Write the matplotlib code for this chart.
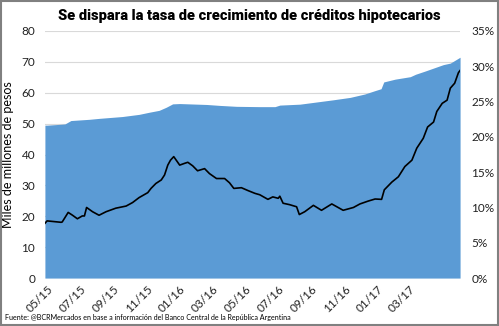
import matplotlib
matplotlib.use("Agg")
import matplotlib.pyplot as plt
import matplotlib.dates as mdates
from matplotlib.patches import Rectangle
from matplotlib.ticker import FuncFormatter
import pandas as pd

# Stock of mortgage loans (left axis, miles de millones de pesos)
stock_dates = ["2015-04-27", "2015-05-01", "2015-05-27", "2015-06-03", "2015-06-14",
               "2015-07-18", "2015-08-05", "2015-09-17", "2015-10-18", "2015-11-06",
               "2015-11-24", "2015-12-07", "2015-12-19", "2016-01-01", "2016-02-20",
               "2016-03-15", "2016-04-15", "2016-05-28", "2016-06-25", "2016-07-04",
               "2016-08-10", "2016-10-10", "2016-11-11", "2016-12-08", "2016-12-27",
               "2017-01-07", "2017-01-12", "2017-02-02", "2017-03-02", "2017-03-12",
               "2017-03-29", "2017-05-02", "2017-05-15", "2017-06-02"]
stock_values = [49.5, 49.5, 49.8, 49.9, 51.0,
                51.4, 51.7, 52.3, 53.0, 53.7,
                54.3, 55.3, 56.4, 56.5, 56.2,
                55.9, 55.6, 55.5, 55.5, 56.0,
                56.3, 57.7, 58.5, 59.6, 60.7,
                61.3, 63.5, 64.4, 65.2, 66.0,
                67.0, 69.1, 69.6, 71.5]

# Year-on-year growth rate (right axis, %)
rate_dates = ["2015-04-27", "2015-05-01", "2015-05-27", "2015-05-29", "2015-06-09",
              "2015-06-17", "2015-06-26", "2015-07-05", "2015-07-09", "2015-07-13",
              "2015-07-24", "2015-08-05", "2015-08-18", "2015-09-05", "2015-09-24",
              "2015-10-06", "2015-10-18", "2015-11-03", "2015-11-09", "2015-11-18",
              "2015-11-28", "2015-12-04", "2015-12-10", "2015-12-15", "2015-12-21",
              "2016-01-01", "2016-01-10", "2016-01-16", "2016-01-25", "2016-02-03",
              "2016-02-16", "2016-02-25", "2016-03-09", "2016-03-24", "2016-04-02",
              "2016-04-10", "2016-04-24", "2016-05-06", "2016-05-19", "2016-05-28",
              "2016-06-12", "2016-06-21", "2016-07-01", "2016-07-04", "2016-07-10",
              "2016-07-22", "2016-08-04", "2016-08-09", "2016-08-19", "2016-09-04",
              "2016-09-19", "2016-10-08", "2016-10-29", "2016-11-17", "2016-11-29",
              "2016-12-14", "2016-12-27", "2017-01-08", "2017-01-13", "2017-01-27",
              "2017-02-08", "2017-02-20", "2017-03-05", "2017-03-14", "2017-03-26",
              "2017-04-03", "2017-04-14", "2017-04-20", "2017-04-30", "2017-05-09",
              "2017-05-15", "2017-05-23", "2017-05-30", "2017-06-02"]
rate_values = [7.75, 8.1, 7.9, 7.95, 9.3,
               8.9, 8.4, 8.8, 8.8, 10.0,
               9.4, 8.9, 9.4, 9.9, 10.2,
               10.7, 11.4, 12.1, 12.7, 13.4,
               13.9, 14.6, 16.0, 16.7, 17.2,
               16.0, 16.25, 16.4, 15.9, 15.2,
               15.5, 14.8, 14.1, 14.1, 13.5,
               12.7, 12.8, 12.4, 12.0, 11.8,
               11.15, 11.5, 11.3, 11.6, 10.6,
               10.4, 10.1, 9.0, 9.4, 10.3,
               9.6, 10.5, 9.6, 10.0, 10.5,
               10.9, 11.2, 11.15, 12.5, 13.6,
               14.35, 15.8, 16.7, 18.4, 19.8,
               21.4, 22.1, 23.6, 24.75, 25.2,
               26.9, 27.6, 29.1, 29.4]

tick_dates = ["2015-05-01", "2015-07-01", "2015-09-01", "2015-11-01", "2016-01-01",
              "2016-03-01", "2016-05-01", "2016-07-01", "2016-09-01", "2016-11-01",
              "2017-01-01", "2017-03-01"]

title = "Se dispara la tasa de crecimiento de créditos hipotecarios"
ylabel = "Miles de millones de pesos"
source = "Fuente: @BCRMercados en base a información del Banco Central de la República Argentina"

sd = pd.to_datetime(stock_dates)
rd = pd.to_datetime(rate_dates)
td = pd.to_datetime(tick_dates)

fig = plt.figure(figsize=(4.99, 3.26), dpi=100)
ax = fig.add_axes([0.090, 0.147, 0.832, 0.758])
ax2 = ax.twinx()

ax.fill_between(sd, 0, stock_values, color="#5B9BD5", linewidth=0, zorder=2)
ax2.plot(rd, rate_values, color="black", linewidth=1.2, zorder=3)

ax.set_ylim(0, 80)
ax.set_yticks(range(0, 81, 10))
ax2.set_ylim(0, 35)
ax2.set_yticks(range(0, 36, 5))
ax2.yaxis.set_major_formatter(FuncFormatter(lambda v, p: f"{int(v)}%"))

ax.set_xlim(sd[0], sd[-1])
ax.set_xticks(td)
ax.xaxis.set_major_formatter(mdates.DateFormatter("%m/%y"))

tickfont = "Lato"
for a in (ax, ax2):
    for s in a.spines.values():
        s.set_visible(False)
    a.tick_params(length=0, labelsize=8.5, colors="#222222")
ax.grid(axis="y", color="#d9d9d9", linewidth=0.8, zorder=0)
ax.set_axisbelow(True)
for lbl in ax.get_xticklabels():
    lbl.set_rotation(45)
    lbl.set_ha("right")
    lbl.set_rotation_mode("anchor")
    lbl.set_fontfamily(tickfont)
for lbl in ax.get_yticklabels() + ax2.get_yticklabels():
    lbl.set_fontfamily(tickfont)
ax.tick_params(axis="y", pad=7)
ax2.tick_params(axis="y", pad=8)
ax.tick_params(axis="x", pad=4)

ax.set_ylabel(ylabel, fontsize=9, family=tickfont)
ax.yaxis.set_label_coords(-0.075, 0.5)

fig.text(0.5, 0.952, title, ha="center", va="center", fontsize=10.5,
         fontweight="black", family=["Roboto", "DejaVu Sans"])
fig.text(0.01, 0.025, source, ha="left", va="center", fontsize=5.1, family=tickfont)

fig.add_artist(Rectangle((0.002, 0.003), 0.995, 0.994, transform=fig.transFigure,
                         fill=False, edgecolor="#808080", linewidth=1.5))

fig.savefig("out.png", dpi=100)
